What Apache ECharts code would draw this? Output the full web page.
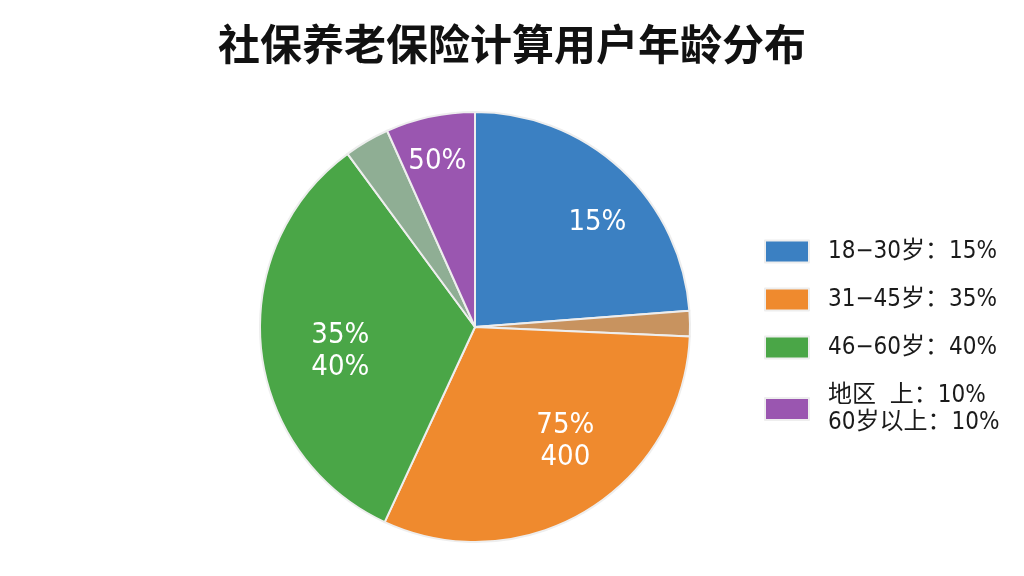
<!DOCTYPE html>
<html><head><meta charset="utf-8">
<script src="https://cdn.jsdelivr.net/npm/echarts@6/dist/echarts.min.js"></script>
<style>html,body{margin:0;padding:0;background:#fff}#c{width:1024px;height:576px}</style>
</head><body><div id="c"></div>
<script>
const titleText = '社保养老保险计算用户年龄分布';
const categories = ['18−30岁', '其他', '31−45岁', '46−60岁', '其他2', '60岁以上'];
const values = [23.8, 1.9, 31.2, 33.0, 3.4, 6.7];
const colors = ['#3b80c2', '#c8935f', '#ef8a2e', '#4aa647', '#8fae94', '#9a56b0'];
const sliceLabels = ['15%', '', '75%\n400', '35%\n40%', '', '50%'];
const legendNames = ['18−30岁', '31−45岁', '46−60岁', '60岁以上'];
const legendTexts = ['18−30岁：15%', '31−45岁：35%', '46−60岁：40%', '地区  上：10%\n60岁以上：10%'];
// label nudges per slice (style only)
const labelNudges = [[16, 10], [0, 0], [9, -19], [21, 9], [0, 0], [-5, -12]];

const font = '"DejaVu Sans Condensed", "Liberation Sans Narrow", Roboto, "Noto Sans CJK SC", sans-serif';
const chart = echarts.init(document.getElementById('c'));
const shapeData = categories.map((n, i) => ({ name: n, value: values[i], itemStyle: { color: colors[i] } }));
const labelData = categories.map((n, i) => ({ name: n + '_l', value: values[i], label: { offset: labelNudges[i] } }));
chart.setOption({
  backgroundColor: '#ffffff',
  title: {
    text: titleText, left: 'center', top: 18,
    textStyle: { fontSize: 42, fontWeight: 'bold', color: '#111', fontFamily: '"Noto Sans CJK SC", sans-serif' }
  },
  legend: {
    orient: 'vertical', left: 759, top: 233,
    itemWidth: 44, itemHeight: 22, itemGap: 21,
    icon: 'rect',
    data: legendNames,
    formatter: name => legendTexts[legendNames.indexOf(name)],
    textStyle: { fontSize: 24, color: '#1a1a1a', fontFamily: font, padding: [0, 0, 0, 14], lineHeight: 27 }
  },
  series: [
    {
      type: 'pie', center: [475, 327], radius: [0, 215], startAngle: 90, clockwise: true,
      itemStyle: { borderColor: '#eeeeee', borderWidth: 2 },
      label: { show: false }, labelLine: { show: false },
      data: shapeData, animation: false
    },
    {
      type: 'pie', center: [475, 327], radius: [92, 215], startAngle: 90, clockwise: true,
      silent: true, legendHoverLink: false,
      itemStyle: { color: 'rgba(0,0,0,0)', borderWidth: 0 },
      label: {
        show: true, position: 'inside', color: '#ffffff', fontSize: 29, lineHeight: 32,
        fontFamily: font,
        formatter: p => sliceLabels[p.dataIndex]
      },
      labelLine: { show: false },
      data: labelData, animation: false
    }
  ]
});
</script></body></html>
